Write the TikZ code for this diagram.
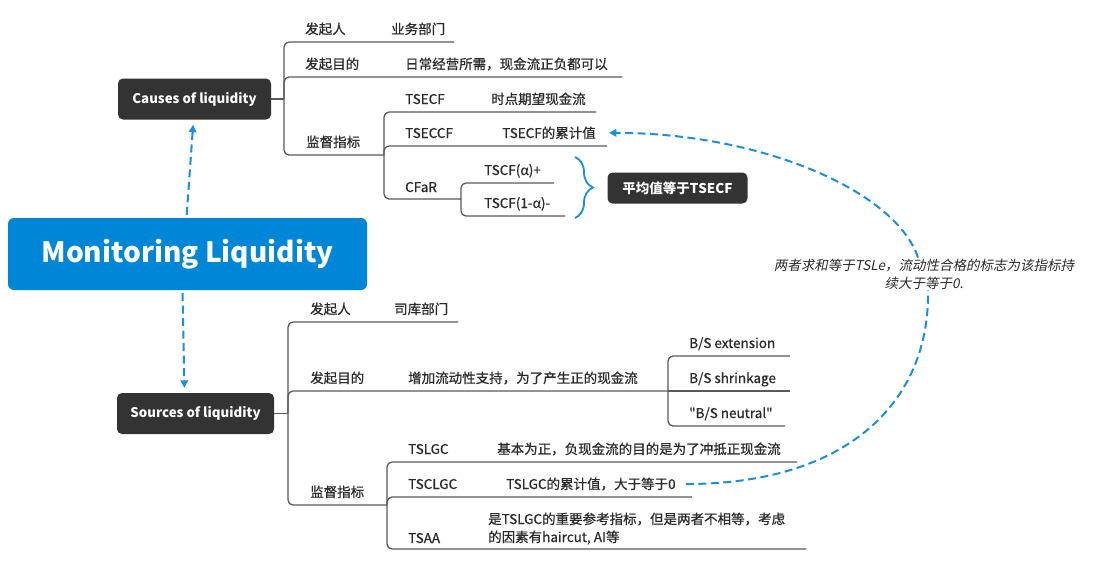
\documentclass[tikz,border=0pt]{standalone}
\usepackage{fontspec}
\setmainfont{Noto Sans CJK SC}[Ligatures=TeXOff]
\newfontfamily\lblfont{Noto Sans CJK SC}[Ligatures=TeXOff, RawFeature={embolden=0.7}]
\newfontfamily\slantfont{Noto Sans CJK SC}[Ligatures=TeXOff, FakeSlant=0.2]
\usetikzlibrary{arrows.meta,decorations.pathreplacing}
\definecolor{boxdark}{HTML}{333333}
\definecolor{mainblue}{HTML}{0086D6}
\definecolor{linkblue}{HTML}{1A8FDB}
\definecolor{linegray}{HTML}{5A5A5A}
\definecolor{txt}{HTML}{2B2B2B}
\tikzset{
 topic/.style={rounded corners=5pt, fill=boxdark, text=white, font=\fontsize{13.3}{15}\selectfont\bfseries, inner sep=0pt, minimum height=41pt},
 lbl/.style={anchor=base west, inner sep=0pt, text=txt, font=\lblfont\fontsize{13.5}{16}\selectfont},
 branch/.style={draw=linegray, line width=1.3pt, rounded corners=5pt},
 flowline/.style={draw=linkblue, line width=2pt, dash pattern=on 8pt off 4.5pt},
 flow/.style={flowline, -{Triangle[length=7.5pt,width=7.5pt]}},
}
\begin{document}
\begin{tikzpicture}[x=1pt,y=-1pt]
\fill[white] (0,0) rectangle (1100,574);
\useasboundingbox (0,0) rectangle (1100,574);

% main topics
\node[rounded corners=6pt, fill=mainblue, text=white, minimum width=359pt, minimum height=72pt, inner sep=0pt, font=\fontsize{28}{32}\selectfont\bfseries] (main) at (187.5,254) {Monitoring Liquidity};
\node[topic, minimum width=153pt] (causes) at (194.5,99) {Causes of liquidity};
\node[topic, minimum width=157pt] (sources) at (195.5,413.5) {Sources of liquidity};

\draw[flow, shorten <=3pt, shorten >=5pt] ([xshift=-1pt]main.north) -- ([xshift=-1pt]causes.south);
\draw[flow, shorten <=3pt, shorten >=5pt] ([xshift=-5pt]main.south) -- ([xshift=-11pt]sources.north);

% ---------- Causes branch ----------
\coordinate (cv) at (284,99);
\draw[branch] (causes.east) -- (cv);
\draw[branch] (cv) |- (454,42);
\draw[branch] (cv) |- (622,77);
\draw[branch] (cv) |- (384,155);
\node[lbl] (c1) at (305,34) {发起人};
\node[lbl] (c1v) at (391,34) {业务部门};
\node[lbl] (c2) at (305,69) {发起目的};
\node[lbl] (c2v) at (405,69) {日常经营所需，现金流正负都可以};
\node[lbl] (c3) at (306,147) {监督指标};

\coordinate (cv2) at (384,155);
\draw[branch] (cv2) |- (596,112);
\draw[branch] (cv2) |- (607,146);
\draw[branch] (cv2) |- (461,199);
\node[lbl] (t1) at (405,104) {TSECF};
\node[lbl] (t1v) at (491,104) {时点期望现金流};
\node[lbl] (t2) at (405,138) {TSECCF};
\node[lbl] (t2v) at (502,138) {TSECF的累计值};
\node[lbl] (t3) at (405,192) {CFaR};

\coordinate (cv3) at (461,199);
\draw[branch] (cv3) |- (554,183);
\draw[branch] (cv3) |- (565,216);
\node[lbl] (a1) at (484,175) {TSCF(α)+};
\node[lbl] (a2) at (484,208) {TSCF(1-α)-};

\draw[draw=linkblue, line width=1.8pt, decorate, decoration={brace, amplitude=18pt, aspect=0.5}] (575,157) -- (575,218);
\node[topic, minimum width=140pt, minimum height=31pt, font=\fontsize{13.5}{15}\selectfont\bfseries] (avg) at (677.5,188) {平均值等于TSECF};

% ---------- Sources branch ----------
\coordinate (sv) at (288,413.5);
\draw[branch] (sources.east) -- (sv);
\draw[branch] (sv) |- (458,322);
\draw[branch] (sv) |- (668,391);
\draw[branch] (sv) |- (387,505);
\node[lbl] (s1) at (310,314) {发起人};
\node[lbl] (s1v) at (394,314) {司库部门};
\node[lbl] (s2) at (310,383) {发起目的};
\node[lbl] (s2v) at (408,383) {增加流动性支持，为了产生正的现金流};
\node[lbl] (s3) at (310,497) {监督指标};

\coordinate (sv2) at (668,391);
\draw[branch] (sv2) |- (790,356);
\draw[branch] (sv2) -- (790,391);
\draw[branch] (sv2) |- (785,426);
\node[lbl] (b1) at (689,348) {B/S extension};
\node[lbl] (b2) at (689,383) {B/S shrinkage};
\node[lbl] (b3) at (689,418) {"B/S neutral"};

\coordinate (sv3) at (387,505);
\draw[branch] (sv3) |- (797,462);
\draw[branch] (sv3) |- (692,497);
\draw[branch] (sv3) |- (806,549);
\node[lbl] (g1) at (408,454) {TSLGC};
\node[lbl] (g1v) at (497,454) {基本为正，负现金流的目的是为了冲抵正现金流};
\node[lbl] (g2) at (408,489) {TSCLGC};
\node[lbl] (g2v) at (506,489) {TSLGC的累计值，大于等于0};
\node[lbl] (g3) at (408,543) {TSAA};
\node[lbl] (g3a) at (488,524) {是TSLGC的重要参考指标，但是两者不相等，考虑};
\node[lbl] (g3b) at (488,542) {的因素有haircut, AI等};

% ---------- relation ----------
\node[align=center, inner sep=1pt, text=txt, font=\slantfont\fontsize{13.5}{18}\selectfont] (note) at (924,274) {两者求和等于TSLe，流动性合格的标志为该指标持\\续大于等于0.};
\draw[flowline] ([xshift=10pt]g2v.east) .. controls (850,484) and (930,400) .. ([xshift=4pt]note.south);
\draw[flow] ([xshift=-6pt]note.north) .. controls (895,190) and (760,133) .. ([xshift=13pt]t2v.east);
\end{tikzpicture}
\end{document}
